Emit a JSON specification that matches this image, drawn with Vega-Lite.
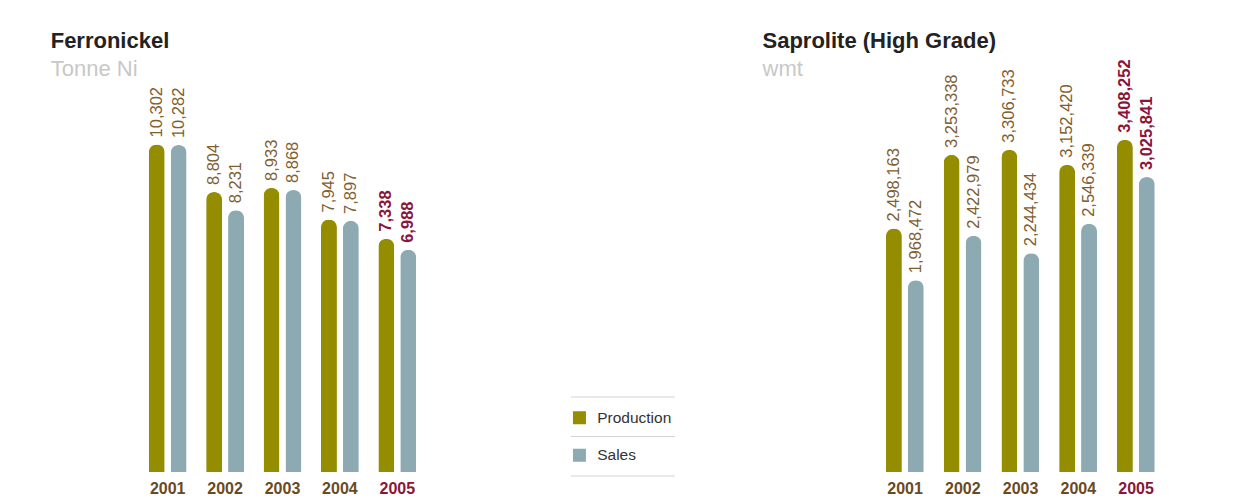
{
  "$schema": "https://vega.github.io/schema/vega-lite/v6.json",
  "autosize": {"type": "pad"},
  "padding": {"left": 50, "top": 30, "right": 0, "bottom": 0},
  "background": "white",
  "bounds": "flush",
  "spacing": 86,
  "datasets": {
    "ferro": [
      {"year": "2001", "series": "Production", "value": 10302},
      {"year": "2001", "series": "Sales", "value": 10282},
      {"year": "2002", "series": "Production", "value": 8804},
      {"year": "2002", "series": "Sales", "value": 8231},
      {"year": "2003", "series": "Production", "value": 8933},
      {"year": "2003", "series": "Sales", "value": 8868},
      {"year": "2004", "series": "Production", "value": 7945},
      {"year": "2004", "series": "Sales", "value": 7897},
      {"year": "2005", "series": "Production", "value": 7338},
      {"year": "2005", "series": "Sales", "value": 6988}
    ],
    "sap": [
      {"year": "2001", "series": "Production", "value": 2498163},
      {"year": "2001", "series": "Sales", "value": 1968472},
      {"year": "2002", "series": "Production", "value": 3253338},
      {"year": "2002", "series": "Sales", "value": 2422979},
      {"year": "2003", "series": "Production", "value": 3306733},
      {"year": "2003", "series": "Sales", "value": 2244434},
      {"year": "2004", "series": "Production", "value": 3152420},
      {"year": "2004", "series": "Sales", "value": 2546339},
      {"year": "2005", "series": "Production", "value": 3408252},
      {"year": "2005", "series": "Sales", "value": 3025841}
    ],
    "legendrows": [
      {"series": "Production", "row": 1},
      {"series": "Sales", "row": 2}
    ]
  },
  "hconcat": [
    {
      "width": 345.7,
      "height": 431,
      "title": {"text": "Ferronickel", "subtitle": "Tonne Ni", "anchor": "start", "frame": "group", "dx": -88.3, "offset": -40},
      "data": {"name": "ferro"},
      "encoding": {
        "x": {"field": "year", "type": "nominal", "scale": {"paddingInner": 0, "paddingOuter": 0.5113, "align": 0}, "axis": {"title": null}},
        "xOffset": {"field": "series", "type": "nominal", "scale": {"paddingInner": 0.27, "paddingOuter": 0.445}},
        "y": {"field": "value", "type": "quantitative", "scale": {"domain": [0, 13555], "nice": false}, "axis": null}
      },
      "layer": [
        {
          "mark": {"type": "bar", "cornerRadiusTopLeft": 8, "cornerRadiusTopRight": 8},
          "encoding": {
            "color": {"field": "series", "type": "nominal", "scale": {"domain": ["Production", "Sales"], "range": ["#958d00", "#8daab3"]},
              "legend": {"orient": "none", "legendX": 432.7, "legendY": 369, "title": null}}
          }
        },
        {
          "transform": [{"filter": "datum.year != '2005'"}],
          "mark": {"type": "text", "angle": 270, "align": "left", "baseline": "middle", "dx": 7, "font": "Liberation Sans", "fontSize": 16.5, "color": "#7f5e2f"},
          "encoding": {"text": {"field": "value", "type": "quantitative", "format": ",d"}}
        },
        {
          "transform": [{"filter": "datum.year == '2005'"}],
          "mark": {"type": "text", "angle": 270, "align": "left", "baseline": "middle", "dx": 7, "font": "Liberation Sans", "fontSize": 16.5, "fontWeight": "bold", "color": "#8a1538"},
          "encoding": {"text": {"field": "value", "type": "quantitative", "format": ",d"}}
        }
      ]
    },
    {
      "width": 104,
      "height": 435,
      "data": {"name": "legendrows"},
      "encoding": {
        "y": {"field": "row", "type": "quantitative", "scale": {"domain": [-9.013, 2], "reverse": true, "nice": false, "zero": false}, "axis": null}
      },
      "layer": [
        {
          "mark": {"type": "rule", "color": "#d2d2d2", "strokeWidth": 1}
        },
        {
          "transform": [{"filter": "datum.row == 1"}],
          "mark": {"type": "rule", "color": "#d2d2d2", "strokeWidth": 1},
          "encoding": {"y": {"datum": 0, "type": "quantitative"}}
        }
      ]
    },
    {
      "width": 403.9,
      "height": 431,
      "title": {"text": "Saprolite (High Grade)", "subtitle": "wmt", "anchor": "start", "frame": "group", "dx": 1.5, "offset": -40},
      "data": {"name": "sap"},
      "encoding": {
        "x": {"field": "year", "type": "nominal", "scale": {"paddingInner": 0, "paddingOuter": 0.997, "align": 1}, "axis": {"title": null}},
        "xOffset": {"field": "series", "type": "nominal", "scale": {"paddingInner": 0.27, "paddingOuter": 0.445}},
        "y": {"field": "value", "type": "quantitative", "scale": {"domain": [0, 4422060], "nice": false}, "axis": null}
      },
      "layer": [
        {
          "mark": {"type": "bar", "cornerRadiusTopLeft": 8, "cornerRadiusTopRight": 8},
          "encoding": {
            "color": {"field": "series", "type": "nominal", "scale": {"domain": ["Production", "Sales"], "range": ["#958d00", "#8daab3"]},
              "legend": {"orient": "none", "legendX": 432.7, "legendY": 369, "title": null}}
          }
        },
        {
          "transform": [{"filter": "datum.year != '2005'"}],
          "mark": {"type": "text", "angle": 270, "align": "left", "baseline": "middle", "dx": 7, "font": "Liberation Sans", "fontSize": 16.5, "color": "#7f5e2f"},
          "encoding": {"text": {"field": "value", "type": "quantitative", "format": ",d"}}
        },
        {
          "transform": [{"filter": "datum.year == '2005'"}],
          "mark": {"type": "text", "angle": 270, "align": "left", "baseline": "middle", "dx": 7, "font": "Liberation Sans", "fontSize": 16.5, "fontWeight": "bold", "color": "#8a1538"},
          "encoding": {"text": {"field": "value", "type": "quantitative", "format": ",d"}}
        }
      ]
    }
  ],
  "resolve": {"scale": {"color": "shared"}, "legend": {"color": "shared"}},
  "config": {
    "view": {"stroke": null},
    "title": {"font": "Liberation Sans", "fontSize": 22, "fontWeight": "bold", "color": "#222222", "subtitleFont": "Liberation Sans", "subtitleFontSize": 22, "subtitleColor": "#c8c8c8", "subtitlePadding": 6},
    "axisX": {"labelFont": "Liberation Sans", "labelFontSize": 16, "labelFontWeight": "bold", "labelAngle": 0, "labelPadding": 8, "ticks": false, "domain": false, "grid": false,
      "labelColor": {"condition": {"test": "datum.value == '2005'", "value": "#8a1538"}, "value": "#6a4a1f"}},
    "legend": {"symbolType": "square", "symbolSize": 169, "symbolStrokeWidth": 0, "symbolOpacity": 1, "labelFont": "Liberation Sans", "labelFontSize": 15.5, "labelColor": "#333333", "labelOffset": 10, "rowPadding": 20.5, "padding": 0}
  }
}
